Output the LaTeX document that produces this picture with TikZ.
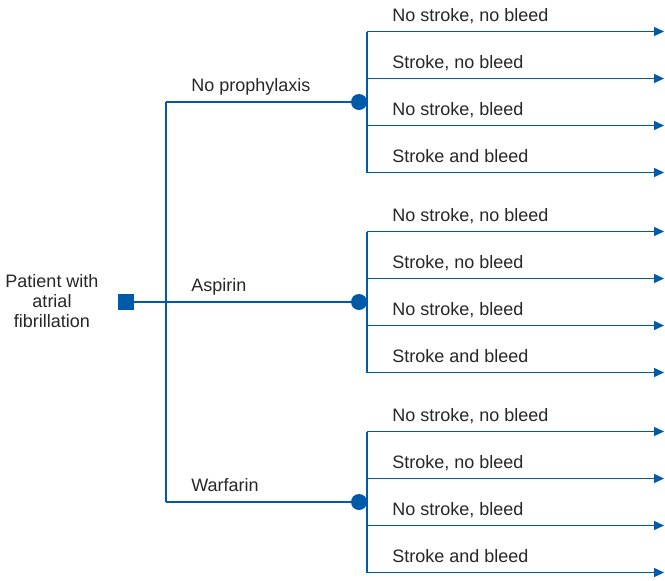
\documentclass[tikz,border=0pt]{standalone}
\usepackage{fontspec}
\setmainfont{Liberation Sans}
\usetikzlibrary{arrows.meta, positioning, calc}
\definecolor{treeblue}{RGB}{0,90,170}

\begin{document}
\begin{tikzpicture}[x=0.5pt, y=-0.5pt, >={Triangle[length=5pt,width=4.5pt]},
    branch/.style={draw=treeblue, line width=0.75pt},
    decision/.style={fill=treeblue, minimum size=8pt, inner sep=0pt},
    chance/.style={circle, fill=treeblue, minimum size=8pt, inner sep=0pt},
    lbl/.style={anchor=base west, inner sep=0pt, font=\fontsize{9}{9.5}\selectfont, text=black!85}]
    \useasboundingbox (0,0) rectangle (665,580);

    \node[decision] (dec) at (126,302) {};
    \node[align=center, font=\fontsize{9}{10}\selectfont, text=black!85] (patient) at (52,301) {Patient with\\atrial\\fibrillation};
    \coordinate (trunk) at (166,302);

    \foreach \y/\opt [count=\i] in {102/No prophylaxis, 302/Aspirin, 502/Warfarin} {
        \node[chance] (c\i) at (359,\y) {};
        \node[lbl] (opt\i) at (191,\y-10.5) {\opt};
        \coordinate (fork\i) at (367,\y);
        \foreach \dy/\out [count=\j] in {-70.5/{No stroke, no bleed}, -23.5/{Stroke, no bleed}, 23.5/{No stroke, bleed}, 70.5/{Stroke and bleed}} {
            \coordinate (end\i\j) at (664,\y+\dy);
            \node[lbl] (out\i\j) at (392,\y+\dy-10) {\out};
            \draw[branch, ->] (fork\i |- end\i\j) -- (end\i\j);
        }
        \draw[branch] (c\i) -- (fork\i);
        \draw[branch] (fork\i |- end\i1) -- (fork\i |- end\i4);
    }
    \draw[branch] (dec) -- (c2);
    \draw[branch] (trunk |- c1) -- (trunk |- c3);
    \draw[branch] (trunk |- c1) -- (c1);
    \draw[branch] (trunk |- c3) -- (c3);
\end{tikzpicture}
\end{document}
